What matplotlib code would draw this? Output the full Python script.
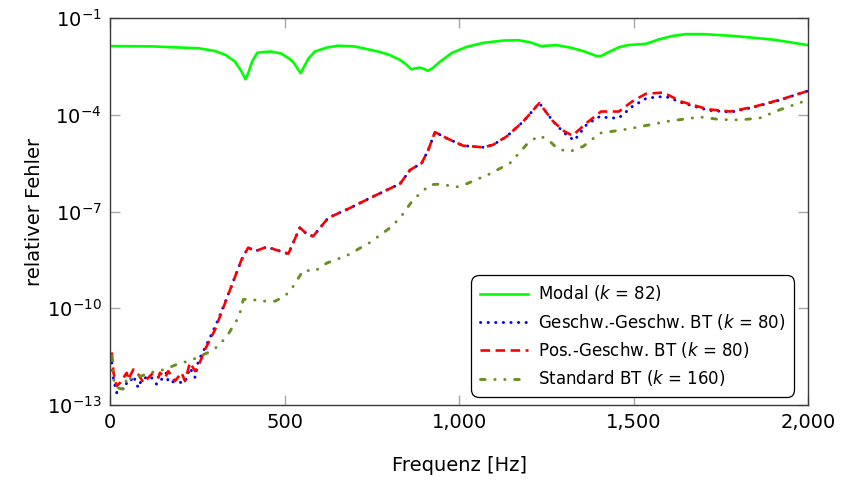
import numpy as np
import matplotlib
matplotlib.use("Agg")
import matplotlib.pyplot as plt
from matplotlib.ticker import FixedLocator, FuncFormatter, LogFormatterSciNotation

plt.rcParams['font.family'] = ['DejaVu Sans']
plt.rcParams['mathtext.fontset'] = 'dejavusans'

# Modal (k = 82): frequency [Hz] and log10 of relative error
modal_f = [0, 120, 255, 300, 332, 358, 377, 388, 396, 407, 422, 435, 461, 490, 512, 524,
           537, 546, 556, 569, 587, 620, 652, 700, 768, 800, 831, 850, 863, 876, 888,
           900, 911, 925, 946, 980, 1023, 1070, 1126, 1170, 1203, 1222, 1233, 1250, 1279,
           1320, 1360, 1394, 1407, 1430, 1460, 1484, 1510, 1535, 1555, 1574, 1610, 1650,
           1700, 1791, 1900, 2000]
modal_log = [-1.87, -1.88, -1.94, -2.02, -2.15, -2.35, -2.66, -2.90, -2.71, -2.35, -2.08,
             -2.06, -2.04, -2.10, -2.25, -2.35, -2.56, -2.71, -2.51, -2.25, -2.04, -1.92,
             -1.86, -1.88, -2.04, -2.14, -2.30, -2.45, -2.59, -2.56, -2.54, -2.58, -2.64,
             -2.55, -2.35, -2.08, -1.89, -1.77, -1.70, -1.69, -1.75, -1.82, -1.87, -1.86,
             -1.84, -1.92, -2.04, -2.18, -2.18, -2.05, -1.90, -1.84, -1.82, -1.80, -1.73,
             -1.66, -1.56, -1.50, -1.50, -1.56, -1.67, -1.84]

# Geschw.-Geschw. BT (k = 80)
vv_f = [5, 10, 19, 33, 43, 48, 57, 67, 81, 91, 115, 134, 148, 162, 167, 181, 200, 215,
        229, 244, 253, 272, 287, 310, 345, 377, 396, 416, 449, 511, 544, 563, 582, 625,
        688, 755, 831, 860, 893, 912, 931, 965, 1012, 1070, 1098, 1137, 1184, 1230, 1270,
        1300, 1330, 1366, 1404, 1430, 1458, 1496, 1535, 1570, 1600, 1636, 1713, 1778,
        1842, 1918, 2000]
vv_log = [-11.69, -12.20, -12.62, -12.50, -12.50, -12.30, -12.30, -12.10, -12.47, -12.20,
          -12.10, -12.36, -12.20, -12.00, -12.30, -12.28, -12.30, -12.30, -11.85, -12.15,
          -11.64, -11.23, -10.90, -10.35, -9.40, -8.49, -8.12, -8.23, -8.10, -8.31, -7.50,
          -7.69, -7.77, -7.20, -6.89, -6.53, -6.14, -5.71, -5.50, -5.09, -4.54, -4.73,
          -4.96, -5.01, -4.93, -4.67, -4.21, -3.64, -4.21, -4.55, -4.80, -4.30, -4.05,
          -4.10, -4.10, -3.75, -3.50, -3.44, -3.46, -3.62, -3.86, -3.92, -3.77, -3.55,
          -3.26]

# Pos.-Geschw. BT (k = 80)
pv_f = [5, 10, 19, 29, 48, 52, 67, 81, 96, 110, 124, 139, 143, 158, 167, 186, 205, 215,
        229, 244, 253, 272, 287, 301, 345, 377, 396, 416, 449, 511, 544, 563, 582, 625,
        688, 755, 831, 860, 893, 912, 931, 965, 1012, 1070, 1098, 1137, 1184, 1230, 1270,
        1300, 1325, 1366, 1407, 1458, 1496, 1535, 1586, 1636, 1713, 1778, 1842, 1918,
        2000]
pv_log = [-11.37, -12.00, -12.41, -12.31, -12.00, -12.21, -11.90, -12.05, -12.31, -12.15,
          -12.00, -12.15, -12.00, -12.15, -11.95, -12.26, -12.00, -12.26, -11.69, -11.95,
          -11.80, -11.28, -10.97, -10.66, -9.40, -8.49, -8.12, -8.23, -8.10, -8.31, -7.50,
          -7.69, -7.77, -7.20, -6.89, -6.53, -6.14, -5.71, -5.50, -5.09, -4.54, -4.73,
          -4.96, -5.01, -4.93, -4.67, -4.21, -3.64, -4.21, -4.50, -4.65, -4.25, -3.90,
          -3.90, -3.59, -3.35, -3.31, -3.59, -3.83, -3.90, -3.76, -3.54, -3.26]

# Standard BT (k = 160)
std_f = [5, 10, 19, 33, 43, 48, 62, 76, 91, 115, 134, 158, 167, 196, 224, 248, 258, 291,
         315, 339, 370, 382, 401, 430, 473, 501, 525, 554, 587, 621, 678, 745, 802, 831,
         869, 917, 946, 993, 1022, 1089, 1146, 1199, 1230, 1256, 1284, 1318, 1356, 1404,
         1480, 1547, 1600, 1690, 1750, 1805, 1862, 1918, 2000]
std_log = [-11.48, -12.20, -12.46, -12.50, -12.50, -12.10, -12.20, -12.10, -12.10, -11.98,
           -11.98, -11.88, -11.85, -11.72, -11.64, -11.54, -11.48, -11.33, -11.12, -10.80,
           -10.25, -9.73, -9.71, -9.78, -9.78, -9.63, -9.32, -8.82, -8.85, -8.60, -8.37,
           -7.96, -7.51, -7.20, -6.63, -6.17, -6.15, -6.24, -6.14, -5.83, -5.50, -4.86,
           -4.65, -4.78, -5.07, -5.14, -4.98, -4.57, -4.45, -4.31, -4.20, -4.07, -4.15,
           -4.16, -4.10, -3.85, -3.54]

fig = plt.figure(figsize=(8.41, 4.80), dpi=100)
ax = fig.add_axes([0.1308, 0.15625, 0.8300, 0.80625])

ax.plot(modal_f, 10.0 ** np.array(modal_log), color='#00ff00', lw=1.9,
        label=r'Modal ($k$ = 82)')
ax.plot(vv_f, 10.0 ** np.array(vv_log), color='#0000ff', lw=2.1,
        linestyle=(0, (0.1, 2.5)), dash_capstyle='round',
        label=r'Geschw.-Geschw. BT ($k$ = 80)')
ax.plot(pv_f, 10.0 ** np.array(pv_log), color='#ff0000', lw=1.9,
        linestyle=(0, (3.6, 2.1)),
        label=r'Pos.-Geschw. BT ($k$ = 80)')
ax.plot(std_f, 10.0 ** np.array(std_log), color='#6b8e23', lw=2.1,
        linestyle=(0, (1.6, 3.3, 0.1, 3.3, 0.1, 3.3)), dash_capstyle='round',
        label=r'Standard BT ($k$ = 160)')

ax.set_yscale('log')
ax.set_xlim(0, 2000)
ax.set_ylim(1e-13, 1e-1)
ax.yaxis.set_major_locator(FixedLocator([1e-13, 1e-10, 1e-7, 1e-4, 1e-1]))
ax.yaxis.set_minor_locator(FixedLocator([]))
ax.yaxis.set_major_formatter(LogFormatterSciNotation())
ax.set_xticks([0, 500, 1000, 1500, 2000])
ax.xaxis.set_major_formatter(FuncFormatter(lambda v, p: f'{int(v):,}'))

ax.tick_params(which='both', direction='in', top=True, right=True, length=7.5,
               width=1.0, color='#a8a8a8', labelsize=14, pad=6)
for s in ax.spines.values():
    s.set_color('#3a3a3a')
    s.set_linewidth(1.0)

ax.set_xlabel('Frequenz [Hz]', fontsize=14, labelpad=17)
ax.set_ylabel('relativer Fehler', fontsize=14, labelpad=2)

leg = ax.legend(loc='lower right', fontsize=12, frameon=True, fancybox=True,
                edgecolor='black', framealpha=1, borderpad=0.5, labelspacing=0.5,
                handlelength=2.9, handletextpad=0.6, bbox_to_anchor=(0.992, 0.0))
leg.get_frame().set_linewidth(0.9)
leg.get_frame().set_boxstyle('round,pad=0,rounding_size=0.45')

fig.savefig('out.png', dpi=100)
